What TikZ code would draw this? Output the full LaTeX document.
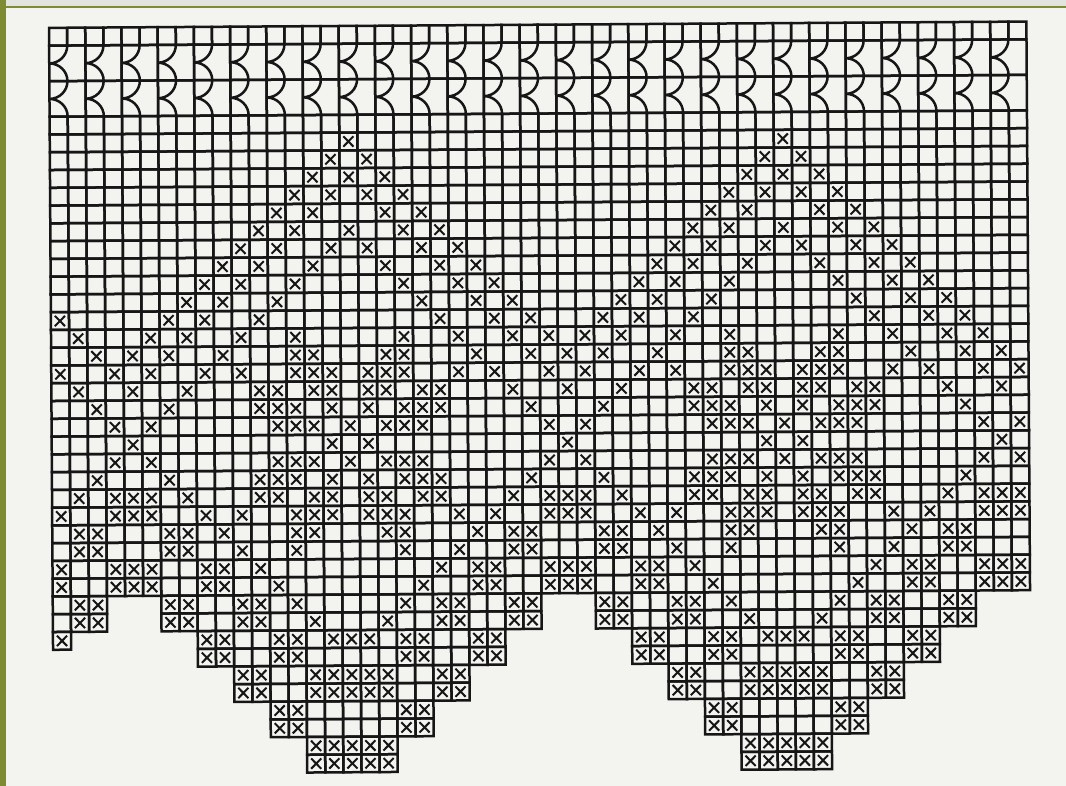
\documentclass[tikz,border=0pt]{standalone}
\definecolor{page}{HTML}{F3F4F0}
\definecolor{olive}{HTML}{7E8B32}
\definecolor{topgray}{HTML}{E2E5DE}
\definecolor{ink}{HTML}{161616}
\tikzset{
  gridline/.style={draw=ink, line width=2.5pt, line join=miter},
  scallop/.style={draw=ink, line width=2.5pt},
  xstroke/.style={draw=ink, line width=2pt},
  xmk/.pic={\draw[xstroke] (-0.28,-0.29) -- (0.28,0.29) (-0.28,0.29) -- (0.28,-0.29);}
}
\begin{document}
\begin{tikzpicture}[x=1pt,y=-1pt]
\useasboundingbox (0,0) rectangle (1066,786);
\fill[page] (0,0) rectangle (1066,786);
\fill[topgray] (0,0) rectangle (1066,6);
\fill[olive] (0,6) rectangle (1066,8);
\fill[olive] (0,0) rectangle (6,786);
\begin{scope}[shift={(51.4,24.7)}, rotate around={0.37:(488.8,373.3)}, x=18.1pt, y=-17.77pt]
  % top row
  \foreach \c in {0,...,53} {\draw[gridline] (\c,0) rectangle (\c+1,1);}
  % scallop band
  \foreach \j in {0,2,...,52} {
    \draw[gridline] (\j,1) rectangle (\j+2,3);
    \draw[gridline] (\j,3) rectangle (\j+2,5);
    \foreach \t in {1,3} {
      \draw[scallop] (\j+1,\t) .. controls (\j+1,\t+0.5523) and (\j+0.5523,\t+1) .. (\j,\t+1)
                     .. controls (\j+0.5523,\t+1) and (\j+1,\t+1.4477) .. (\j+1,\t+2);
    }
  }
  % cells
  \foreach \c/\b in {0/34,1/33,2/33,3/31,4/31,5/31,6/33,7/33,8/35,9/35,10/37,11/37,12/39,13/39,
      14/41,15/41,16/41,17/41,18/41,19/39,20/39,21/37,22/37,23/35,24/35,25/33,26/33,27/31,28/31,29/31,
      30/33,31/33,32/35,33/35,34/37,35/37,36/39,37/39,38/41,39/41,40/41,41/41,42/41,43/39,44/39,
      45/37,46/37,47/35,48/35,49/33,50/33,51/31,52/31,53/31} {
    \foreach \r in {5,...,\b} {\draw[gridline] (\c,\r) rectangle (\c+1,\r+1);}
  }
  % crosses
  \foreach \r/\cols in {
    6/{16,40},
    7/{15,17,39,41},
    8/{14,16,18,38,40,42},
    9/{13,15,17,19,37,39,41,43},
    10/{12,14,18,20,36,38,42,44},
    11/{11,13,16,19,21,35,37,40,43,45},
    12/{10,12,15,17,20,22,34,36,39,41,44,46},
    13/{9,11,14,18,21,23,33,35,38,42,45,47},
    14/{8,10,13,19,22,24,32,34,37,43,46,48},
    15/{7,9,12,20,23,25,31,33,36,44,47,49},
    16/{0,6,8,11,21,24,26,30,32,35,45,48,50},
    17/{1,5,7,10,13,19,22,25,27,29,31,34,37,43,46,49,51},
    18/{2,4,6,9,13,14,18,19,23,26,28,30,33,37,38,42,43,47,50,52},
    19/{0,3,5,8,10,13,14,15,17,18,19,22,24,27,29,32,34,37,38,39,41,42,43,46,48,51,53},
    20/{1,4,7,11,12,14,15,17,18,20,21,25,28,31,35,36,38,39,41,42,44,45,49,52},
    21/{2,6,11,12,13,15,17,19,20,21,26,30,35,36,37,39,41,43,44,45,50},
    22/{3,5,12,13,14,16,18,19,20,27,29,36,37,38,40,42,43,44,51,53},
    23/{4,15,17,28,39,41,52},
    24/{3,5,12,13,14,16,18,19,20,27,29,36,37,38,40,42,43,44,51,53},
    25/{2,6,11,12,13,15,17,19,20,21,26,30,35,36,37,39,41,43,44,45,50},
    26/{1,3,4,5,7,11,12,14,15,17,18,20,21,25,27,28,29,31,35,36,38,39,41,42,44,45,49,51,52,53},
    27/{0,3,4,5,8,10,13,14,15,17,18,19,22,24,27,28,29,32,34,37,38,39,41,42,43,46,48,51,52,53},
    28/{1,2,6,7,9,13,14,18,19,23,25,26,30,31,33,37,38,42,43,47,49,50},
    29/{1,2,6,7,10,13,19,22,25,26,30,31,34,37,43,46,49,50},
    30/{0,3,4,5,8,9,11,21,23,24,27,28,29,32,33,35,45,47,48,51,52,53},
    31/{0,3,4,5,8,9,12,20,23,24,27,28,29,32,33,36,44,47,48,51,52,53},
    32/{1,2,6,7,10,11,13,19,21,22,25,26,30,31,34,35,37,43,45,46,49,50},
    33/{1,2,6,7,10,11,14,18,21,22,25,26,30,31,34,35,38,42,45,46,49,50},
    34/{0,8,9,12,13,15,16,17,19,20,23,24,32,33,36,37,39,40,41,43,44,47,48},
    35/{8,9,12,13,19,20,23,24,32,33,36,37,43,44,47,48},
    36/{10,11,14,15,16,17,18,21,22,34,35,38,39,40,41,42,45,46},
    37/{10,11,14,15,16,17,18,21,22,34,35,38,39,40,41,42,45,46},
    38/{12,13,19,20,36,37,43,44},
    39/{12,13,19,20,36,37,43,44},
    40/{14,15,16,17,18,38,39,40,41,42},
    41/{14,15,16,17,18,38,39,40,41,42}} {
    \foreach \c in \cols {\pic at (\c+0.5,\r+0.5) {xmk};}
  }
\end{scope}
\end{tikzpicture}
\end{document}
